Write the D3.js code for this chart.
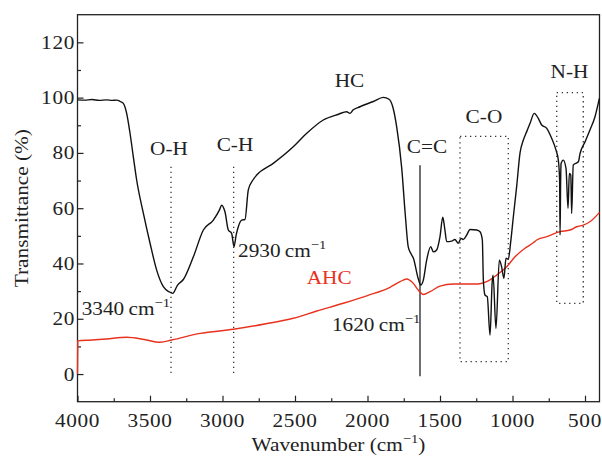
<!DOCTYPE html>
<html lang="en">
<head>
<meta charset="UTF-8">
<script src="https://d3js.org/d3.v7.min.js"></script>
<title>FTIR spectra</title>
<style>
    body { margin: 0; background: #fff; }
    svg text { font-family: "Liberation Serif", "Times New Roman", serif; fill: #222; }
</style>
</head>
<body>
<div id="chart"></div>
<script>
// HC spectrum: [wavenumber, transmittance]
const hcSpectrum = [
    [4000, 99.2], [3950, 99.1], [3900, 99.3], [3850, 99.0], [3800, 99.2], [3760, 99.0], [3730, 99.1],
    [3705, 98.6], [3684, 97.9], [3661, 94.3], [3638, 87.2], [3615, 78.6], [3592, 70.2],
    [3546, 58.2], [3500, 47.4], [3454, 37.6], [3408, 31.6], [3370, 29.8], [3343, 29.2],
    [3310, 32.2], [3270, 34.2], [3201, 42.4], [3132, 52.1], [3063, 55.7], [3020, 59.5],
    [3006, 61.1], [2990, 59.8], [2983, 58.7], [2960, 52.1], [2937, 50.9], [2921, 46.1],
    [2905, 50.5], [2891, 53.3], [2868, 55.7], [2845, 55.9], [2822, 66.6], [2790, 70.2],
    [2764, 72.0], [2650, 76.2], [2512, 82.2], [2419, 87.1], [2305, 91.9], [2200, 94.0],
    [2144, 94.9], [2121, 94.3], [2100, 95.5], [2052, 96.7], [1960, 98.6], [1891, 100.1],
    [1870, 99.9], [1845, 99.1], [1825, 96.5], [1799, 89.5], [1764, 74.5], [1740, 58.0],
    [1719, 46.0], [1700, 43.5], [1684, 42.0], [1650, 34.5], [1633, 32.2], [1615, 34.0],
    [1592, 41.2], [1564, 46.1], [1546, 44.2], [1523, 44.9], [1500, 49.7], [1481, 56.7],
    [1466, 52.1], [1454, 47.9], [1419, 48.1], [1397, 48.7], [1374, 47.3], [1355, 49.1],
    [1340, 48.7], [1316, 50.3], [1293, 52.3], [1247, 52.1], [1224, 51.5], [1208, 48.5],
    [1201, 34.0], [1190, 28.6], [1174, 28.0], [1155, 14.1], [1140, 33.4], [1134, 35.8],
    [1114, 16.5], [1091, 41.2], [1075, 38.8], [1059, 34.6], [1045, 41.9], [1029, 41.5],
    [1012, 48.0], [994, 57.0], [971, 68.0], [948, 80.0], [925, 84.7], [902, 87.7],
    [879, 90.7], [850, 94.3], [822, 92.5], [799, 90.1], [764, 88.9], [730, 85.3],
    [700, 81.0], [684, 77.4], [675, 70.0], [672, 50.3], [668, 70.0], [665, 76.2],
    [650, 77.4], [631, 74.4], [617, 60.0], [608, 72.6], [598, 72.0], [592, 58.1],
    [581, 75.6], [546, 76.8], [534, 79.8], [500, 84.0], [466, 88.3], [431, 93.1], [401, 99.7]
];

// AHC spectrum: [wavenumber, transmittance]
const ahcSpectrum = [
    [4000, 0], [3998, 12.0], [3900, 12.3], [3800, 12.7], [3661, 13.3], [3540, 12.5],
    [3431, 11.5], [3350, 12.3], [3155, 14.7], [2925, 16.2], [2700, 18.2], [2512, 20.2],
    [2350, 22.8], [2167, 25.6], [2000, 28.4], [1845, 31.4], [1776, 33.4], [1730, 34.4],
    [1684, 32.8], [1650, 30.4], [1615, 28.8], [1569, 29.8], [1500, 31.8], [1408, 32.6],
    [1316, 32.6], [1236, 32.6], [1178, 33.4], [1109, 35.8], [1040, 38.8], [983, 42.4],
    [914, 45.5], [857, 47.5], [833, 48.5], [764, 49.7], [672, 51.5], [603, 52.1],
    [557, 53.3], [512, 53.9], [466, 55.1], [400, 58.5]
];

const xTicks = [4000, 3500, 3000, 2500, 2000, 1500, 1000, 500];
const xMinorTicks = [3750, 3250, 2750, 2250, 1750, 1250, 750];
const yTicks = [0, 20, 40, 60, 80, 100, 120];
const yMinorTicks = [10, 30, 50, 70, 90, 110];

// dotted guide lines [wavenumber, from, to] and boxes [wnLeft, wnRight, top, bottom]
const guideLines = [[3355, 75, 0], [2923, 75, 0]];
const bandBoxes = [[1362, 1029, 86, 4.5], [695, 512, 101.8, 25.6]];

const width = 602;
const height = 459;
const SX = 1.12; // text is a little wider than Liberation Serif

const svg = d3.select("#chart").append("svg")
    .attr("width", width)
    .attr("height", height);

const x = d3.scaleLinear().domain([4000, 400]).range([77.5, 599.5]);
const y = d3.scaleLinear().domain([-10, 130]).range([401.7, 14.7]);

const ink = "#222";
const red = "#e8321e";

// axes with inward ticks
const xAxis = svg.append("g")
    .attr("transform", `translate(0,${y(-10)})`)
    .call(d3.axisBottom(x).tickValues(xTicks).tickSizeInner(-6).tickSizeOuter(0).tickPadding(0).tickFormat(""));
const xMinor = svg.append("g")
    .attr("transform", `translate(0,${y(-10)})`)
    .call(d3.axisBottom(x).tickValues(xMinorTicks).tickSizeInner(-3.5).tickSizeOuter(0).tickFormat(""));
const yAxis = svg.append("g")
    .attr("transform", `translate(${x(4000)},0)`)
    .call(d3.axisLeft(y).tickValues(yTicks).tickSizeInner(-6).tickSizeOuter(0).tickFormat(""));
const yMinor = svg.append("g")
    .attr("transform", `translate(${x(4000)},0)`)
    .call(d3.axisLeft(y).tickValues(yMinorTicks).tickSizeInner(-3.5).tickSizeOuter(0).tickFormat(""));

[xAxis, xMinor, yAxis, yMinor].forEach(g => {
    g.select(".domain").remove();
    g.selectAll("line").attr("stroke", ink).attr("stroke-width", 1.2);
});

// frame
svg.append("rect")
    .attr("x", x(4000)).attr("y", y(130))
    .attr("width", x(400) - x(4000)).attr("height", y(-10) - y(130))
    .attr("fill", "none").attr("stroke", ink).attr("stroke-width", 1.3);

function label(px, py, str, anchor = "middle", size = 19, color = ink) {
    return svg.append("text")
        .attr("transform", `translate(${px},${py}) scale(${SX},1)`)
        .attr("text-anchor", anchor)
        .style("font-size", size + "px")
        .style("fill", color)
        .text(str);
}

function cmLabel(px, py, num, anchor = "start") {
    const t = svg.append("text")
        .attr("transform", `translate(${px},${py}) scale(${SX},1)`)
        .attr("text-anchor", anchor)
        .style("font-size", "19px");
    t.append("tspan").text(num + "\u2009cm");
    t.append("tspan").attr("dy", -8).style("font-size", "13px").text("\u22121");
    return t;
}

// tick labels
xTicks.forEach(v => label(x(v), 426.5, v).style("letter-spacing", "0.6px"));
yTicks.forEach(v => label(75, y(v) + 6.5, v, "end").style("letter-spacing", "0.6px"));

// axis titles
svg.append("text")
    .attr("transform", `translate(28,${(y(-10) + y(130)) / 2}) rotate(-90) scale(${SX},1)`)
    .attr("text-anchor", "middle")
    .style("font-size", "19px")
    .text("Transmittance (%)");

const xt = svg.append("text")
    .attr("transform", `translate(${(x(4000) + x(400)) / 2},451) scale(${SX},1)`)
    .attr("text-anchor", "middle")
    .style("font-size", "19px");
xt.append("tspan").text("Wavenumber (cm");
xt.append("tspan").attr("dy", -8).style("font-size", "13px").text("\u22121");
xt.append("tspan").attr("dy", 8).text(")");

// guides
const dots = "1.3,3.7";
guideLines.forEach(([wn, t0, t1]) => {
    svg.append("line")
        .attr("x1", x(wn)).attr("x2", x(wn))
        .attr("y1", y(t0)).attr("y2", y(t1))
        .attr("stroke", "#333").attr("stroke-width", 1.3)
        .attr("stroke-dasharray", dots);
});
bandBoxes.forEach(([w0, w1, t0, t1]) => {
    svg.append("rect")
        .attr("x", x(w0)).attr("y", y(t0))
        .attr("width", x(w1) - x(w0)).attr("height", y(t1) - y(t0))
        .attr("fill", "none")
        .attr("stroke", "#333").attr("stroke-width", 1.3)
        .attr("stroke-dasharray", dots);
});
// C=C solid marker
svg.append("line")
    .attr("x1", x(1638)).attr("x2", x(1638))
    .attr("y1", y(75.5)).attr("y2", y(-0.8))
    .attr("stroke", "#222").attr("stroke-width", 1.3);

// spectra
const line = d3.line().x(d => x(d[0])).y(d => y(d[1])).curve(d3.curveMonotoneX);

svg.append("path")
    .datum(ahcSpectrum)
    .attr("d", line)
    .attr("fill", "none")
    .attr("stroke", red)
    .attr("stroke-width", 1.4);

svg.append("path")
    .datum(hcSpectrum)
    .attr("d", line)
    .attr("fill", "none")
    .attr("stroke", "#111")
    .attr("stroke-width", 1.4)
    .attr("stroke-linejoin", "round");

// annotations
label(x(3369), y(79.2), "O-H");
label(x(2914), y(80.7), "C-H");
label(x(2124), y(104), "HC");
label(x(1590), y(80), "C=C");
label(x(1197), y(90.7), "C-O");
label(x(607), y(107.2), "N-H");
label(x(2419), y(32.6), "AHC", "start", 19, red);
cmLabel(x(3971), y(21.3), "3340");
cmLabel(x(2893), y(42.4), "2930");
cmLabel(x(2245), y(15.6), "1620");
</script>
</body>
</html>
